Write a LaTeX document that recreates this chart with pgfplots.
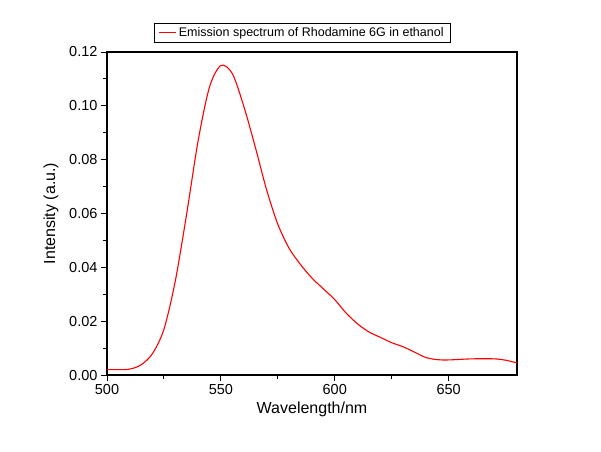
\documentclass[border=0pt]{standalone}
\usepackage{pgfplots}
\pgfplotsset{compat=1.18}
\usepackage{fontspec}
\setmainfont{Liberation Sans}
\begin{document}
\begin{tikzpicture}
\path[use as bounding box] (-107pt,-76pt) rectangle (494pt,375pt);
\begin{axis}[at={(0,0)},anchor=south west,scale only axis,
width=410pt,height=323pt,
xmin=500,xmax=680,ymin=0,ymax=0.12,
xtick={500,550,600,650},ytick={0,0.02,...,0.12},
minor x tick num=1,minor y tick num=1,
tick pos=left,tick align=outside,
major tick length=6pt,minor tick length=4pt,
axis line style={line width=1.2pt},every tick/.style={line width=1pt,black},
/pgf/number format/assume math mode=true,
yticklabel style={/pgf/number format/fixed,/pgf/number format/fixed zerofill,/pgf/number format/precision=2},
scaled y ticks=false,
tick label style={font=\fontsize{14.5}{16}\selectfont},
label style={font=\fontsize{16}{18}\selectfont},
ylabel style={yshift=4pt},
xlabel={Wavelength/nm},ylabel={Intensity (a.u.)},
legend style={at={(0.476,1.031)},anchor=south,font=\fontsize{12.5}{14}\selectfont,draw=black,inner xsep=5pt,inner ysep=2pt},
legend cell align=left]
\addplot[red,line width=1.1pt,smooth] coordinates {
(500,0.002)(505,0.002)(510,0.0022)(515,0.0038)(520,0.008)(525,0.017)(530,0.035)(535,0.06)(540,0.087)(545,0.107)(550,0.115)(555,0.112)(560,0.1)(565,0.085)(570,0.069)(575,0.056)(580,0.047)(585,0.041)(590,0.036)(595,0.032)(600,0.028)(605,0.023)(610,0.019)(615,0.016)(620,0.014)(625,0.012)(630,0.0105)(635,0.0085)(640,0.0065)(645,0.0057)(650,0.0056)(660,0.006)(670,0.006)(675,0.0055)(680,0.0045)};
\addlegendentry{Emission spectrum of Rhodamine 6G in ethanol}
\end{axis}
\end{tikzpicture}
\end{document}
